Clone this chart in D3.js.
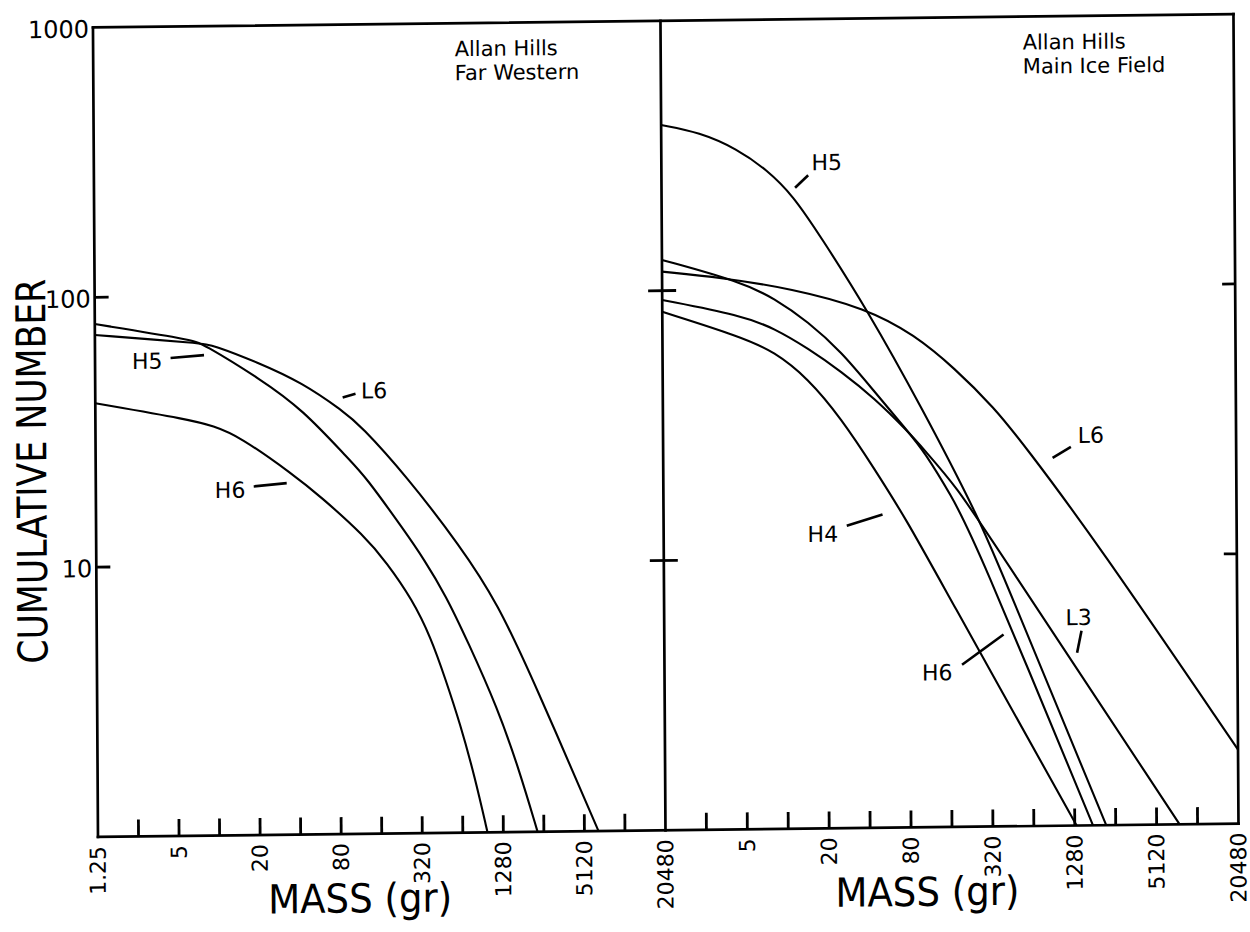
<!DOCTYPE html>
<html><head><meta charset="utf-8">
<script src="https://cdn.jsdelivr.net/npm/d3@7"></script>
<style>
html,body{margin:0;padding:0;background:#fff;}
svg{display:block;}
text{font-family:"DejaVu Sans",sans-serif;fill:#000;}
</style></head><body>
<svg id="chart" width="1250" height="932"></svg>
<script>
// ---------- data ----------
const massTicks = [1.25,2.5,5,10,20,40,80,160,320,640,1280,2560,5120,10240,20480];
const leftMassLabels  = ["1.25","5","20","80","320","1280","5120","20480"];
const rightMassLabels = ["5","20","80","320","1280","5120","20480"];
const countTickValues = [100,10];
const countLabelValues = [1000,100,10];
const countLabels = ["1000","100","10"];
const farWesternTitle = ["Allan Hills","Far Western"];
const mainIceTitle = ["Allan Hills","Main Ice Field"];

// Allan Hills Far Western  [mass (g), cumulative number]
const farWesternH5 = [[1.25,79.6],[6.5,69],[7.8,66.8],[21,49],[43,37.7],[96,24.3],[124,21.3],[247,13.1],[337,10.4],[490,7.6],[712,5.1],[1170,2.9],[1690,1.7],[2300,1]];
const farWesternL6 = [[1.25,72.5],[7.8,66.8],[9.4,65.7],[20,56.6],[43,47.3],[86,37],[117,32.5],[249,21.3],[636,11.5],[1190,7.06],[2210,3.58],[6520,1]];
const farWesternH6 = [[1.25,40.5],[6.4,34.8],[9.3,33],[14.5,30.2],[37,21.5],[58,17.9],[123,12.7],[179,10.1],[277,7.34],[378,5.31],[484,3.71],[619,2.53],[790,1.61],[977,1]];

// Allan Hills Main Ice Field
const mainIceH5 = [[1.25,411],[2.39,385],[4.5,333],[7.5,277],[11.6,222],[18.2,157.6],[39.6,84.3],[99,36.4],[269,13.5],[396,8.34],[2180,1]];
const mainIceL6 = [[1.25,117.6],[3.42,111.1],[11.1,100.6],[39.6,84.3],[89.3,66.9],[175,50.2],[343,35.6],[570,25.7],[1826,11.6],[20480,1.88]];
const mainIceH4 = [[1.25,83.5],[4.75,66.9],[8.33,58.7],[14.6,46.7],[25.5,33.1],[44.5,21.5],[77.8,13.6],[131,8.38],[1321,1]];
const mainIceH6 = [[1.25,130],[4.79,106.9],[8.39,92.5],[14.7,75.7],[25.8,58.4],[45,41.4],[78.8,29.4],[104,24.7],[162.5,17],[239,11.8],[1743,1]];
const mainIceL3 = [[1.25,92.4],[4.77,80.4],[8.36,71.6],[14.7,60.2],[25.7,49.3],[45,39.1],[78.8,29.4],[104,25.06],[182,18],[318,11.7],[7560,1]];

// curve labels: name, text anchor [mass,count], pointer from/to [mass,count]
const farWesternLabels = [
  {name:"H5", at:[2.35,57.6], from:[4.55,59.1], to:[8.06,60.4]},
  {name:"L6", at:[117.6,43.8], from:[85.9,41.5], to:[107.1,42.8]},
  {name:"H6", at:[9.56,19.0], from:[18.6,19.6], to:[32.7,20.1]}
];
const mainIceLabels = [
  {name:"H5", at:[15.9,293.4], from:[12.0,237.5], to:[15.0,263.8]},
  {name:"L6", at:[1400,27.9], from:[914,23.1], to:[1247,25.3]},
  {name:"H4", at:[14.3,12.3], from:[27.8,13.2], to:[51.0,14.5]},
  {name:"L3", at:[1118,5.9], from:[1464,5.27], to:[1356,4.37]},
  {name:"H6", at:[97.8,3.73], from:[193,3.99], to:[391,5.14]}
];

// ---------- drawing ----------
const svg = d3.select("#chart");
// slight skew/rotation of the scanned original
const g = svg.append("g").attr("transform","matrix(1,-0.0117,0.0062,1,-1.67,6.58)");

const yScale = d3.scaleLog().domain([1,1000]).range([831.5,22]);
const xLeft = d3.scaleLog().base(2).domain([1.25,20480]).range([94.5,662]);
const xRight = d3.scaleLog().base(2).domain([1.25,20480]).range([662,1235]);

const y0 = yScale(1), y1 = yScale(1000);
const xl0 = xLeft(1.25), xdiv = xLeft(20480), xr1 = xRight(20480);

// frame
const frame = g.append("g").attr("stroke","#000").attr("stroke-width",2.7).attr("fill","none").attr("stroke-linecap","square");
frame.append("line").attr("x1",xl0).attr("x2",xr1).attr("y1",y1).attr("y2",y1);
frame.append("line").attr("x1",xl0).attr("x2",xr1).attr("y1",y0).attr("y2",y0);
frame.append("line").attr("x1",xl0).attr("x2",xl0).attr("y1",y1).attr("y2",y0);
frame.append("line").attr("x1",xdiv).attr("x2",xdiv).attr("y1",y1).attr("y2",y0);
frame.append("line").attr("x1",xr1).attr("x2",xr1).attr("y1",y1).attr("y2",y0);

// x ticks (inner ones)
const innerTicks = massTicks.slice(1, massTicks.length-1);
[xLeft, xRight].forEach(xs => {
  g.append("g").selectAll("line").data(innerTicks).join("line")
    .attr("x1",d=>xs(d)).attr("x2",d=>xs(d))
    .attr("y1",y0).attr("y2",y0-17)
    .attr("stroke","#000").attr("stroke-width",2.8);
});

// y ticks
const yt = g.append("g").attr("stroke","#000").attr("stroke-width",2.8);
countTickValues.forEach(v => {
  yt.append("line").attr("x1",xl0).attr("x2",xl0+14).attr("y1",yScale(v)).attr("y2",yScale(v));
  yt.append("line").attr("x1",xdiv-14).attr("x2",xdiv+14).attr("y1",yScale(v)).attr("y2",yScale(v));
  yt.append("line").attr("x1",xr1-13).attr("x2",xr1).attr("y1",yScale(v)).attr("y2",yScale(v));
});

// y tick labels
g.append("g").selectAll("text").data(countLabelValues).join("text")
  .attr("x",xl0-4).attr("y",d=>yScale(d)+2)
  .attr("text-anchor","end").attr("dominant-baseline","central")
  .attr("font-size",24).text((d,i)=>countLabels[i]);

// x tick labels (rotated)
function massLabels(xs, labels, tickValues){
  g.append("g").selectAll("text").data(tickValues).join("text")
    .attr("transform",d=>`translate(${xs(d)},${y0+9}) rotate(-90)`)
    .attr("text-anchor","end").attr("dominant-baseline","central")
    .attr("font-size",22).text((d,i)=>labels[i]);
}
massLabels(xLeft, leftMassLabels, massTicks.filter((d,i)=>i%2===0));
massLabels(xRight, rightMassLabels, massTicks.filter((d,i)=>i%2===0 && i>0));

// axis titles
g.append("text").attr("x",(xl0+xdiv)/2-22).attr("y",910)
  .attr("text-anchor","middle").attr("font-size",40)
  .attr("textLength",184).attr("lengthAdjust","spacingAndGlyphs").text("MASS (gr)");
g.append("text").attr("x",(xdiv+xr1)/2-25).attr("y",910)
  .attr("text-anchor","middle").attr("font-size",40)
  .attr("textLength",184).attr("lengthAdjust","spacingAndGlyphs").text("MASS (gr)");
g.append("text").attr("transform","translate(45,465) rotate(-90)")
  .attr("text-anchor","middle").attr("font-size",41)
  .attr("textLength",385).attr("lengthAdjust","spacingAndGlyphs").text("CUMULATIVE NUMBER");

// panel titles
function panelTitle(lines, x){
  const t = g.append("text").attr("font-size",21);
  lines.forEach((s,i)=>{
    t.append("tspan").attr("x",x).attr("y",55+i*24).text(s);
  });
}
panelTitle(farWesternTitle, 456);
panelTitle(mainIceTitle, 1024);

// curves
function drawCurves(xs, series){
  const line = d3.line().x(d=>xs(d[0])).y(d=>yScale(d[1])).curve(d3.curveBasis);
  g.append("g").selectAll("path").data(series).join("path")
    .attr("d",line).attr("fill","none").attr("stroke","#000").attr("stroke-width",2.1)
    .attr("stroke-linejoin","round");
}
drawCurves(xLeft, [farWesternH5, farWesternL6, farWesternH6]);
drawCurves(xRight, [mainIceH5, mainIceL6, mainIceH4, mainIceH6, mainIceL3]);

// curve labels
function drawLabels(xs, labels){
  const lg = g.append("g");
  lg.selectAll("line").data(labels).join("line")
    .attr("x1",d=>xs(d.from[0])).attr("y1",d=>yScale(d.from[1]))
    .attr("x2",d=>xs(d.to[0])).attr("y2",d=>yScale(d.to[1]))
    .attr("stroke","#000").attr("stroke-width",2.6);
  lg.selectAll("text").data(labels).join("text")
    .attr("x",d=>xs(d.at[0])).attr("y",d=>yScale(d.at[1]))
    .attr("dominant-baseline","central").attr("font-size",22)
    .text(d=>d.name);
}
drawLabels(xLeft, farWesternLabels);
drawLabels(xRight, mainIceLabels);
</script>
</body></html>
